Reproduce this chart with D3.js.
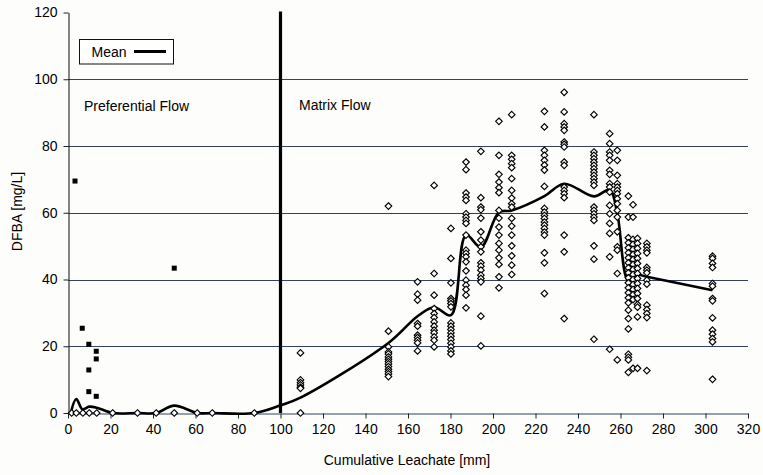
<!DOCTYPE html>
<html>
<head>
<meta charset="utf-8">
<script src="https://cdn.jsdelivr.net/npm/d3@7"></script>
<style>
  html, body { margin: 0; padding: 0; background: #fdfdfb; }
  svg { display: block; font-family: "Liberation Sans", Arial, sans-serif; }
</style>
</head>
<body>
<svg id="chart" width="763" height="475"></svg>
<script>
// Axis ticks
const xTicks = [0, 20, 40, 60, 80, 100, 120, 140, 160, 180, 200, 220, 240, 260, 280, 300, 320];
const yTicks = [0, 20, 40, 60, 80, 100, 120];

// Preferential flow samples (filled squares)
const prefX = [3.3, 6.7, 9.8, 9.8, 9.8, 13.3, 13.3, 13.3, 50];
const prefY = [69.5, 25.4, 20.6, 12.9, 6.4, 18.5, 16.2, 5.0, 43.4];

// Samples with no detectable DFBA
const zeroX = [1.7, 3.9, 7, 10, 13.5, 21, 32.7, 41.5, 50, 60.8, 67.9, 87.7, 109.4];

// Matrix flow samples: one leachate value per sampling event, several concentrations each
const matrixX = [109.4, 150.8, 164.5, 172.3, 180.2, 187.3, 194.3, 202.8, 208.8, 224.2, 233.5, 247.5, 254.9, 258.5, 263.7, 265.9, 268.0, 272.4, 303.3];
const matrixY = [
  [18.0, 9.9, 9.1, 8.4, 7.7, 7.4],
  [62.0, 24.5, 19.8, 18.3, 17.7, 16.8, 16.1, 15.4, 14.7, 13.9, 13.1, 12.4, 11.7, 10.9],
  [39.3, 35.6, 33.8, 26.8, 26.0, 23.3, 22.6, 21.8, 21.0, 18.6],
  [68.2, 41.8, 35.3, 31.3, 29.8, 28.6, 27.3, 26.0, 24.8, 24.0, 22.8, 21.8, 19.8],
  [55.3, 46.3, 39.0, 34.3, 33.6, 32.8, 31.8, 27.0, 26.0, 25.0, 24.0, 23.0, 22.0, 20.9, 19.8, 18.6, 17.7],
  [75.2, 72.9, 65.9, 64.7, 63.7, 59.7, 58.7, 57.7, 56.8, 53.3, 48.8, 47.8, 46.8, 45.3, 42.6, 39.8, 38.3, 37.0, 35.3, 31.5],
  [78.4, 64.5, 61.7, 60.9, 58.4, 54.3, 51.8, 49.8, 48.3, 45.0, 44.0, 42.8, 41.3, 40.3, 39.3, 29.0, 20.1],
  [87.4, 77.2, 71.5, 69.2, 67.5, 66.0, 60.7, 58.4, 55.7, 53.3, 50.8, 48.8, 46.5, 44.5, 40.8, 37.5],
  [89.4, 77.2, 76.0, 74.7, 73.5, 70.2, 66.7, 64.4, 62.7, 61.7, 58.3, 56.0, 53.3, 50.1, 47.1, 44.3, 41.5],
  [90.4, 85.7, 78.7, 77.2, 75.7, 74.3, 72.8, 67.9, 61.3, 60.2, 59.2, 58.3, 57.2, 56.3, 55.3, 54.2, 53.3, 48.0, 45.0, 35.8],
  [96.1, 90.2, 86.7, 85.7, 84.7, 81.2, 80.5, 79.7, 75.2, 74.2, 67.7, 66.7, 65.7, 64.5, 53.3, 48.3, 28.3],
  [89.4, 78.2, 77.2, 76.2, 75.2, 74.2, 73.2, 72.2, 71.2, 70.2, 69.2, 68.2, 61.7, 60.7, 59.7, 58.7, 57.7, 50.1, 46.1, 22.1],
  [83.7, 80.7, 78.2, 77.2, 75.7, 72.7, 71.5, 68.7, 67.7, 66.2, 62.2, 59.7, 56.8, 53.8, 46.8, 19.1],
  [78.7, 75.7, 71.2, 68.7, 67.7, 66.7, 65.7, 64.2, 62.7, 60.7, 58.7, 54.3, 49.8, 48.8, 41.8, 15.9],
  [65.0, 58.7, 52.5, 51.0, 49.5, 48.0, 46.5, 45.0, 43.5, 42.0, 40.5, 39.0, 37.5, 36.0, 34.5, 33.0, 30.8, 28.3, 25.2, 17.6, 16.7, 15.9, 12.2],
  [62.4, 58.7, 52.0, 50.5, 49.0, 47.5, 46.0, 44.5, 43.0, 41.5, 40.0, 38.5, 37.0, 35.5, 34.0, 13.4],
  [52.3, 50.8, 49.3, 47.8, 46.3, 44.8, 43.3, 41.8, 40.3, 38.8, 37.3, 35.8, 34.3, 32.5, 31.7, 28.8, 13.4],
  [50.8, 49.8, 48.8, 48.0, 43.6, 42.8, 42.0, 39.8, 38.6, 32.3, 31.0, 29.8, 28.6, 12.7],
  [47.0, 46.3, 44.8, 43.6, 38.8, 38.0, 34.3, 33.6, 28.5, 24.8, 23.6, 22.3, 21.3, 10.1]
];

// Mean concentration curve
const meanX = [1.3, 3.9, 6.8, 10, 13.5, 21, 32.7, 41.5, 50, 60.8, 67.9, 87.7, 100, 109.4, 150.8, 164.5, 172.3, 180.2, 187.3, 194.3, 202.8, 208.8, 224.2, 233.5, 247.5, 254.9, 258.5, 263.7, 268.0, 272.4, 303.3];
const meanY = [0, 4.2, 1.1, 1.9, 1.6, 0, 0, 0, 2.2, 0, 0, 0, 2.3, 4.6, 21.0, 29.0, 31.7, 29.3, 53.3, 49.7, 60.1, 60.7, 65.0, 68.7, 64.9, 66.8, 59.7, 39.6, 41.4, 40.8, 36.8];

const svg = d3.select("#chart");
const x = d3.scaleLinear().domain([0, 320]).range([68, 748]);
const y = d3.scaleLinear().domain([0, 120]).range([413, 12.5]);
const gridColor = "#33405e";
const textColor = "#000";

// Horizontal gridlines
svg.append("g")
  .selectAll("line")
  .data(yTicks.filter(d => d > 0 && d < 120))
  .join("line")
  .attr("x1", x(0)).attr("x2", x(320))
  .attr("y1", d => Math.round(y(d)) + 0.5).attr("y2", d => Math.round(y(d)) + 0.5)
  .attr("stroke", gridColor).attr("stroke-width", 1.1);

// X axis
const xAxis = svg.append("g")
  .attr("transform", `translate(0,${Math.round(y(0)) + 0.5})`)
  .call(d3.axisBottom(x).tickValues(xTicks).tickSize(5).tickPadding(6).tickSizeOuter(0));
xAxis.select(".domain").attr("stroke", gridColor).attr("stroke-width", 1.2);
xAxis.selectAll(".tick line").attr("stroke", "#222");
xAxis.selectAll("text").attr("font-size", 14).attr("fill", textColor)
  .attr("font-family", "'Liberation Sans', Arial, sans-serif");

// Y axis
const yAxis = svg.append("g")
  .attr("transform", `translate(${Math.round(x(0)) + 0.5},0)`)
  .call(d3.axisLeft(y).tickValues(yTicks).tickSize(5).tickPadding(6).tickSizeOuter(0));
yAxis.select(".domain").attr("stroke", "#222").attr("stroke-width", 1.1);
yAxis.selectAll(".tick line").attr("stroke", "#222");
yAxis.selectAll("text").attr("font-size", 14).attr("fill", textColor)
  .attr("font-family", "'Liberation Sans', Arial, sans-serif");

// Boundary between preferential and matrix flow
svg.append("line")
  .attr("x1", x(100)).attr("x2", x(100))
  .attr("y1", y(120) - 1).attr("y2", y(0))
  .attr("stroke", "#000").attr("stroke-width", 3.2);

// Region labels
svg.append("text").attr("x", 84).attr("y", 110.5)
  .attr("font-size", 14).attr("fill", textColor).text("Preferential Flow");
svg.append("text").attr("x", 299).attr("y", 110)
  .attr("font-size", 14).attr("fill", textColor).text("Matrix Flow");

// Open diamond marker path
const diamond = "M0,-3.3L3.3,0L0,3.3L-3.3,0Z";

const matrixPoints = matrixX.flatMap((mx, i) => matrixY[i].map(v => ({ x: mx, y: v })));
const zeroPoints = zeroX.map(zx => ({ x: zx, y: 0 }));

// Mean curve
const line = d3.line()
  .x((d, i) => x(meanX[i]))
  .y((d, i) => y(meanY[i]))
  .curve(d3.curveCatmullRom.alpha(0.5));
svg.append("path")
  .attr("d", line(meanX))
  .attr("fill", "none").attr("stroke", "#000").attr("stroke-width", 2.6)
  .attr("stroke-linejoin", "round");

// Diamonds
svg.append("g")
  .selectAll("path")
  .data(matrixPoints.concat(zeroPoints))
  .join("path")
  .attr("d", diamond)
  .attr("transform", d => `translate(${x(d.x)},${y(d.y)})`)
  .attr("fill", "#fff").attr("stroke", "#000").attr("stroke-width", 1.15);

// Filled squares
svg.append("g")
  .selectAll("rect")
  .data(prefX.map((px, i) => ({ x: px, y: prefY[i] })))
  .join("rect")
  .attr("x", d => x(d.x) - 2.5).attr("y", d => y(d.y) - 2.5)
  .attr("width", 5).attr("height", 5)
  .attr("fill", "#000");

// Legend
const legend = svg.append("g");
legend.append("rect").attr("x", 79.5).attr("y", 39.5).attr("width", 94).attr("height", 24.5)
  .attr("fill", "#fff").attr("stroke", "#111").attr("stroke-width", 1);
legend.append("text").attr("x", 91.5).attr("y", 57).attr("font-size", 14).attr("fill", textColor).text("Mean");
legend.append("line").attr("x1", 134).attr("x2", 166).attr("y1", 51.5).attr("y2", 51.5)
  .attr("stroke", "#000").attr("stroke-width", 3);

// Axis titles
svg.append("text").attr("x", x(160) - 1).attr("y", 465)
  .attr("text-anchor", "middle").attr("font-size", 14).attr("fill", textColor)
  .text("Cumulative Leachate [mm]");
svg.append("text")
  .attr("transform", `translate(22,211.5) rotate(-90)`)
  .attr("text-anchor", "middle").attr("font-size", 14).attr("fill", textColor)
  .text("DFBA [mg/L]");
</script>
</body>
</html>
